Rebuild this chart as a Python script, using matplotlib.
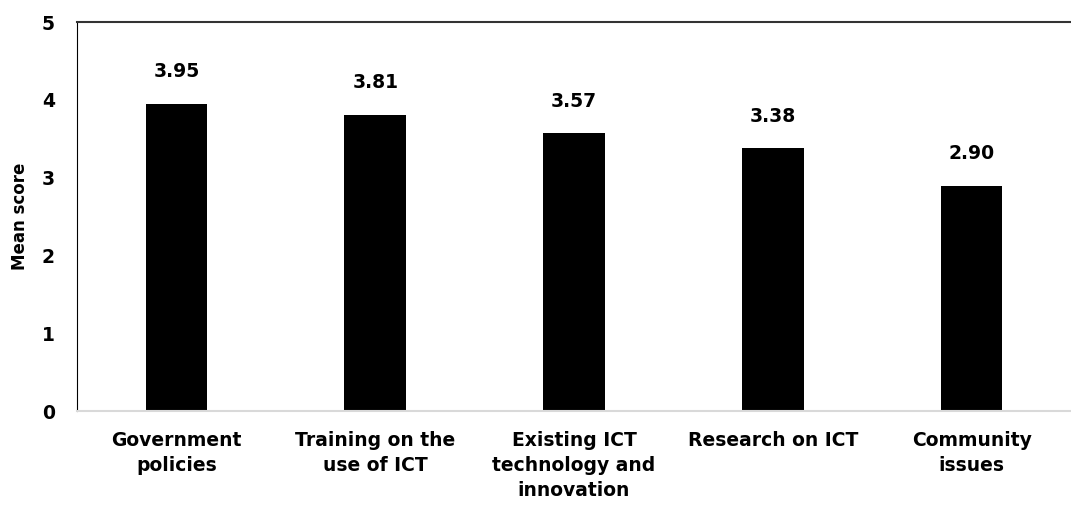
import matplotlib
matplotlib.use('Agg')
import matplotlib.pyplot as plt
import numpy as np

categories = ['Government\npolicies', 'Training on the\nuse of ICT', 'Existing ICT\ntechnology and\ninnovation',
              'Research on ICT', 'Community\nissues']
scores = [3.95, 3.81, 3.57, 3.38, 2.90]

plt.rcParams['font.family'] = ['DejaVu Sans']
plt.rcParams['font.weight'] = 'bold'

fig = plt.figure(figsize=(10.71, 5.05), dpi=100)
ax = fig.add_axes([0.072, 0.186, 0.928, 0.77])

x = np.arange(len(categories))
bars = ax.bar(x, scores, width=0.31, color='black')
for b, v in zip(bars, scores):
    ax.text(b.get_x() + b.get_width() / 2, v + 0.29, f'{v:.2f}', ha='center', va='bottom',
            fontsize=13.5, fontweight='bold')

ax.set_xlim(-0.5, len(categories) - 0.5)
ax.set_ylim(0, 5)
ax.set_yticks(range(6))
ax.set_xticks(x)
ax.set_xticklabels(categories, fontsize=13.5, fontweight='bold', linespacing=1.42)
ax.tick_params(axis='y', labelsize=13.5, length=0, pad=16)
ax.tick_params(axis='x', length=0, pad=14)
for lab in ax.get_yticklabels():
    lab.set_fontweight('bold')
ax.set_ylabel('Mean score', fontsize=12, fontweight='bold', labelpad=9)

ax.spines['right'].set_visible(False)
ax.spines['left'].set_color('black')
ax.spines['top'].set_color('#333333')
ax.spines['top'].set_linewidth(1.5)
ax.spines['bottom'].set_color('#d9d9d9')
ax.spines['bottom'].set_linewidth(1.5)

fig.savefig('out.png', dpi=100)
